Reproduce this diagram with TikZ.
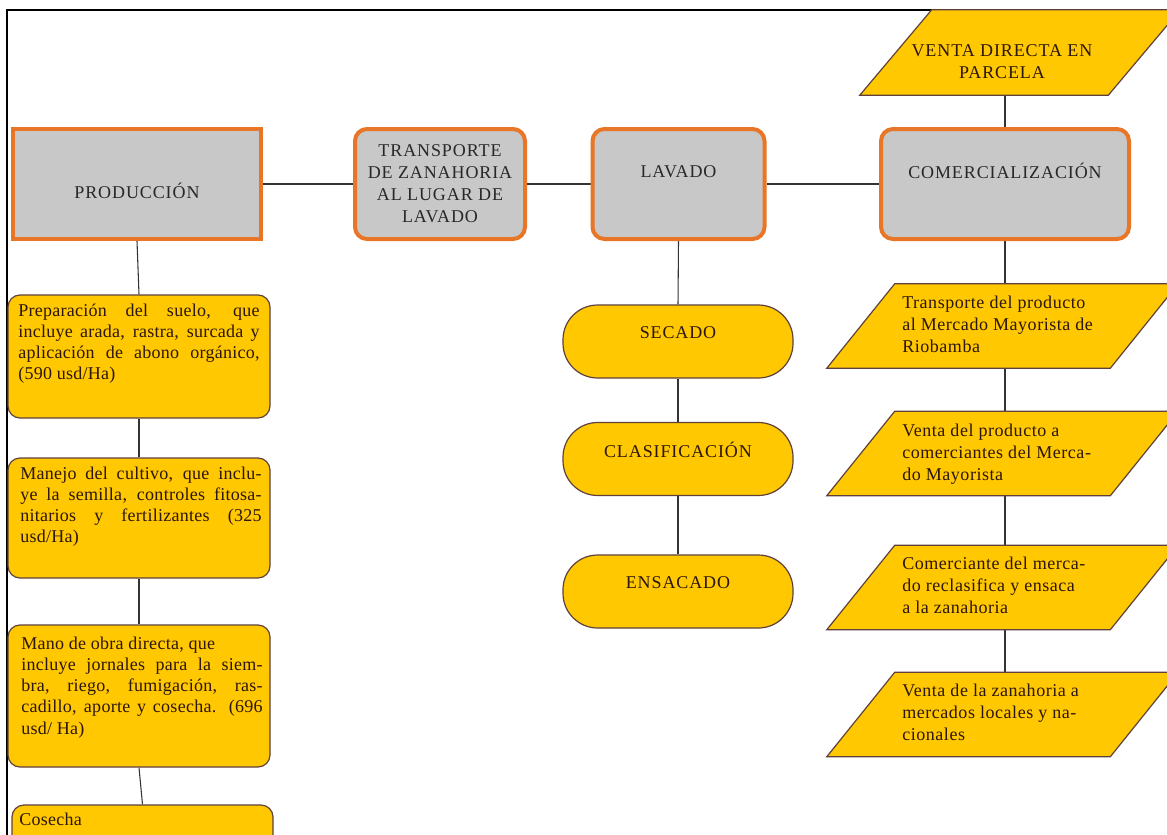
\documentclass[tikz,border=0pt]{standalone}
\usepackage{fontspec}
\setmainfont{Liberation Serif}
\newfontfamily\capfont[LetterSpace=5]{Liberation Serif}
\newfontfamily\bodyfont[LetterSpace=1.5]{Liberation Serif}
\newfontfamily\parafont[LetterSpace=3]{Liberation Serif}
\usetikzlibrary{calc,backgrounds}
\definecolor{boxorange}{RGB}{232,118,38}
\definecolor{boxgray}{RGB}{200,200,200}
\definecolor{boxyellow}{RGB}{255,200,0}
\definecolor{yellowedge}{RGB}{95,65,60}
\definecolor{txtbrown}{RGB}{45,22,10}
\definecolor{txtgray}{RGB}{40,40,40}
\newdimen\pxu \pxu=0.75pt
\tolerance=10000
\hyphenpenalty=10000
\begin{document}
\begin{tikzpicture}[x=0.75pt,y=-0.75pt,
  graybox/.style={draw=boxorange, fill=boxgray, line width=3pt, rounded corners=9pt, inner sep=0pt},
  ybox/.style={draw=yellowedge, fill=boxyellow, line width=0.9pt, rounded corners=9pt,
    minimum width=262\pxu, inner sep=0pt},
  stadiumbox/.style={draw=yellowedge, fill=boxyellow, line width=0.9pt, rounded corners=26pt,
    minimum width=230\pxu, minimum height=73\pxu, inner sep=0pt},
  parabox/.style={draw=none, minimum width=283\pxu, minimum height=84\pxu, inner sep=0pt},
  para/.style={draw=yellowedge, fill=boxyellow, line width=0.9pt},
  captext/.style={font=\capfont\fontsize{13.5pt}{16.5pt}\selectfont, text=txtgray, align=center, inner sep=0pt},
  ycaptext/.style={font=\capfont\fontsize{13.5pt}{16.5pt}\selectfont, text=txtbrown, align=center, inner sep=0pt},
  bodytext/.style={font=\bodyfont\fontsize{13.5pt}{15.8pt}\selectfont, text=txtbrown,
    text width=181pt, align=justify, inner sep=0pt, anchor=north west},
  paratext/.style={font=\parafont\fontsize{13.5pt}{16.5pt}\selectfont, text=txtbrown, align=left, inner sep=0pt, anchor=west},
  conn/.style={draw=black!80, line width=0.8pt}]
\useasboundingbox (0,0) rectangle (1167,835);
% frame
\draw[line width=0.8pt] (7,835) -- (7,10) -- (1167,10);

% top row
\node[graybox, sharp corners, minimum width=248\pxu, minimum height=110\pxu] (prod) at (137,184) {};
\node[captext] (prodT) at (137,191) {PRODUCCIÓN};
\node[graybox, minimum width=170\pxu, minimum height=110\pxu, captext] (trans) at (440,184)
  {TRANSPORTE\\DE ZANAHORIA\\AL LUGAR DE\\LAVADO};
\node[graybox, minimum width=172\pxu, minimum height=110\pxu] (lav) at (678.5,184) {};
\node[captext] (lavT) at (678.5,172) {LAVADO};
\node[graybox, minimum width=248\pxu, minimum height=110\pxu] (com) at (1005,184) {};
\node[captext] (comT) at (1005,171) {COMERCIALIZACIÓN};

% venta directa
\node[parabox, minimum width=248\pxu, minimum height=85\pxu] (venta) at (984,52.5) {};
\draw[para] (venta.south west) -- (venta.south east) -- ([xshift=54pt]venta.north east)
  -- ([xshift=54pt]venta.north west) -- cycle;
\node[ycaptext] (ventaT) at (1002,62) {VENTA DIRECTA EN\\PARCELA};

% left column
\node[ybox, minimum height=123\pxu] (b1) at (139,356.5) {};
\node[bodytext] (b1T) at (18,304) {Preparación del suelo, que\linebreak incluye arada, rastra, surcada y\linebreak aplicación de abono orgánico,\linebreak (590 usd/Ha)};
\node[ybox, minimum height=120\pxu] (b2) at (139,518) {};
\node[bodytext] (b2T) at (20,467) {Manejo del cultivo, que inclu-\linebreak ye la semilla, controles fitosa-\linebreak nitarios y fertilizantes (325\linebreak usd/Ha)};
\node[ybox, minimum height=142\pxu] (b3) at (139,696) {};
\node[bodytext] (b3T) at (21,637) {Mano de obra directa, que\\ incluye jornales para la siem-\linebreak bra, riego, fumigación, ras-\linebreak cadillo, aporte y cosecha. (696\linebreak usd/ Ha)};
\node[ybox, minimum width=261\pxu, minimum height=80\pxu] (b4) at (142.5,845) {};
\node[bodytext] (b4T) at (19,813) {Cosecha};

% middle column
\node[stadiumbox] (sec) at (678,341.5) {};
\node[ycaptext] (secT) at (678,333) {SECADO};
\node[stadiumbox] (clas) at (678,459) {};
\node[ycaptext] (clasT) at (678,450) {CLASIFICACIÓN};
\node[stadiumbox] (ens) at (678,591.5) {};
\node[ycaptext] (ensT) at (678,583) {ENSACADO};

% right column
\foreach \n/\cy in {p1/326, p2/453.5, p3/587.5, p4/714.5}{
  \node[parabox] (\n) at (968.5,\cy) {};
  \draw[para] (\n.south west) -- (\n.south east) -- ([xshift=51pt]\n.north east)
    -- ([xshift=51pt]\n.north west) -- cycle;
}
\node[paratext] (p1T) at (902,324) {Transporte del producto\\al Mercado Mayorista de\\Riobamba};
\node[paratext] (p2T) at (902,454) {Venta del producto a\\comerciantes del Merca-\\do Mayorista};
\node[paratext] (p3T) at (902,585) {Comerciante del merca-\\do reclasifica  y ensaca\\a la zanahoria};
\node[paratext] (p4T) at (902,712) {Venta de la zanahoria a\\mercados locales y na-\\cionales};

% connectors
\begin{scope}[on background layer]
\fill[white] (0,0) rectangle (1167,835);
\draw[conn] (prod.east) -- (trans.west);
\draw[conn] (trans.east) -- (lav.west);
\draw[conn] (lav.east) -- (com.west);
\draw[conn] (com.north |- venta.south) -- (com.north);
\draw[conn] (prod.south) -- (b1.north);
\draw[conn] (b1.south) -- (b2.north);
\draw[conn] (b2.south) -- (b3.north);
\draw[conn] (b3.south) -- (b4.north);
\draw[conn] (lav.south) -- (sec.north);
\draw[conn] (sec.south) -- (clas.north);
\draw[conn] (clas.south) -- (ens.north);
\draw[conn] (com.south) -- (com.south |- p1.north);
\draw[conn] (com.south |- p1.south) -- (com.south |- p2.north);
\draw[conn] (com.south |- p2.south) -- (com.south |- p3.north);
\draw[conn] (com.south |- p3.south) -- (com.south |- p4.north);
\end{scope}
\end{tikzpicture}
\end{document}
